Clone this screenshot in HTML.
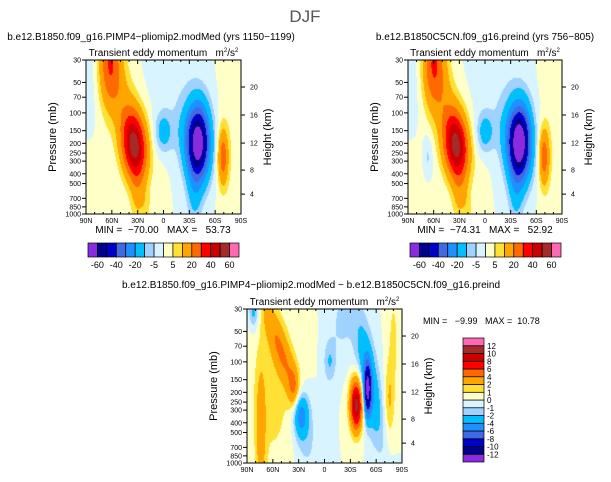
<!DOCTYPE html>
<html><head><meta charset="utf-8">
<style>
body{margin:0;background:#fff;width:611px;height:482px;overflow:hidden;position:relative;font-family:"Liberation Sans",sans-serif}
canvas{position:absolute}
svg{position:absolute;left:0;top:0}
text{white-space:pre}
</style></head>
<body>
<canvas id="c1"></canvas>
<canvas id="c2"></canvas>
<canvas id="c3"></canvas>
<svg id="s" width="611" height="482"></svg>
<script>
// ---- data ----
const latTicks = [90,60,30,0,-30,-60,-90];
const latTickLabels = ["90N","60N","30N","0","30S","60S","90S"];
const presTicks = [30,50,70,100,150,200,250,300,400,500,700,850,1000];
const heightTicks = [4,8,12,16,20];
const heightTickPres = [636,368,199,105,55.5];
const levelsFull = [-60,-50,-40,-30,-20,-10,-5,0,5,10,20,30,40,50,60];
const levelsFullLabels = ["-60","-40","-20","-5","5","20","40","60"];
const levelsDiff = [-12,-10,-8,-6,-4,-2,-1,0,1,2,4,6,8,10,12];
const colors = ["#8a2be2","#00008b","#0000cd","#4169e1","#1e90ff","#00bfff","#a0d2ff","#d8f4ff","#ffffc8","#ffe135","#ffa500","#ff6a00","#ff0000","#cc0000","#a52a2a","#ff69b4"];
// blobs: [lat, pressure, amplitude, sigmaLat, sigmaLnP, tilt]
const blobs1 = [[34,208,56,10,0.55,-3],[62,32,30,9,0.7,0],[48,70,8,10,0.6,0],[30,700,9,6,0.5,0],[-40,198,-72,9.5,0.6,0],[-36,700,-9,6,0.5,0],[0,155,-14,7,0.32,0],[-20,150,-5,8,0.5,0],[-69,273,25,4.3,0.45,0],[-80,100,3,10,3,0],[85,50,-3,8,1.0,0],[80,700,2.5,15,1.2,0],[-15,45,-3,20,0.8,0],[5,600,2,6,0.6,0],[20,900,5,4,0.3,0]];
const blobs2 = [[34,208,55,10,0.55,-3],[60,32,30,9,0.7,0],[48,70,8,10,0.6,0],[30,700,9,6,0.5,0],[-40,198,-76,9.5,0.6,0],[-36,700,-9,6,0.5,0],[0,155,-14,7,0.32,0],[-20,150,-5,8,0.5,0],[-69,273,25,4.3,0.45,0],[-80,100,3,10,3,0],[85,50,-3,8,1.0,0],[80,700,2.5,15,1.2,0],[-15,45,-3,20,0.8,0],[5,600,2,6,0.6,0],[67,270,-7,4,0.35,0],[20,900,5,4,0.3,0]];
const blobs3 = [[-37,267,11,5,0.4,0],[-50,189,-11,3,0.4,0],[-52,150,-4,8,1.0,-7.5],[27,330,-5.5,6,0.35,0],[50,80,3.5,8,0.8,-16],[36,180,2.5,4,0.3,0],[74,500,2.6,4,1.0,0],[60,200,1.3,20,1.5,0],[-6,100,-2,5,0.35,0],[-75,250,2,4,0.6,0],[82,30,-3,4,0.3,0],[20,600,-1.3,10,0.6,0],[-20,40,-1.2,10,0.6,0],[-80,60,1.2,5,1,0]];

const NS="http://www.w3.org/2000/svg";
const svg=document.getElementById('s');
function el(tag,attrs,parent){const e=document.createElementNS(NS,tag);for(const k in attrs)e.setAttribute(k,attrs[k]);(parent||svg).appendChild(e);return e;}
function txt(x,y,s,size,anchor,rot,name){const t=el('text',{x:x,y:y,'font-size':size,'text-anchor':anchor||'start',fill:'#000','font-family':'Liberation Sans, sans-serif'});if(rot)t.setAttribute('transform','rotate('+rot+' '+x+' '+y+')');t.textContent=s;


return t;}

function field(blobs,lat,p){let v=0;const lp=Math.log(p);for(const b of blobs){const dl=lp-Math.log(b[1]);const lc=b[0]+b[5]*dl;const a=(lat-lc)/b[3],c=dl/b[4];v+=b[2]*Math.exp(-0.5*(a*a+c*c));}return v;}
function idx(v,levels){let i=0;for(const l of levels)if(v>=l)i++;return i;}
function hex(c){return [parseInt(c.substr(1,2),16),parseInt(c.substr(3,2),16),parseInt(c.substr(5,2),16)];}

function panel(id,ox,oy,w,h,blobs,levels,name){
  const cv=document.getElementById(id);cv.width=w;cv.height=h;cv.style.left=ox+'px';cv.style.top=oy+'px';
  const ctx=cv.getContext('2d');const im=ctx.createImageData(w,h);
  const L=Math.log(1000/30);
  const xOf=lat=>ox+(90-lat)/180*w;
  const yOf=p=>oy+Math.log(p/30)/L*h;
  for(let j=0;j<h;j++){const p=30*Math.exp((j+0.5)/h*L);for(let i=0;i<w;i++){const lat=90-(i+0.5)/w*180;const c=hex(colors[idx(field(blobs,lat,p),levels)]);const k=(j*w+i)*4;im.data[k]=c[0];im.data[k+1]=c[1];im.data[k+2]=c[2];im.data[k+3]=255;}}
  ctx.putImageData(im,0,0);
  const g=el('g',{});
  
  
  el('rect',{x:ox,y:oy,width:w,height:h,fill:'none',stroke:'#000','stroke-width':1},g);
  latTicks.forEach((lt,i)=>{const x=xOf(lt);el('line',{x1:x,y1:oy+h,x2:x,y2:oy+h-4,stroke:'#000'},g);el('line',{x1:x,y1:oy,x2:x,y2:oy+4,stroke:'#000'},g);
    txt(x,oy+h+9,latTickLabels[i],7,'middle',0,'x-tick-label');});
  for(let lt=80;lt>-90;lt-=10){if(lt%30===0)continue;const x=xOf(lt);el('line',{x1:x,y1:oy+h,x2:x,y2:oy+h-2,stroke:'#000'},g);el('line',{x1:x,y1:oy,x2:x,y2:oy+2,stroke:'#000'},g);}
  presTicks.forEach(p=>{const y=yOf(p);el('line',{x1:ox,y1:y,x2:ox-4,y2:y,stroke:'#000'},g);txt(ox-5,y+2.5,String(p),7,'end',0,'y-tick-label');});
  heightTicks.forEach((hk,i)=>{const y=yOf(heightTickPres[i]);el('line',{x1:ox+w,y1:y,x2:ox+w+4,y2:y,stroke:'#000'},g);txt(ox+w+9,y+2.5,String(hk),7,'start',0,'height-tick-label');});
  txt(ox-30,oy+h/2,'Pressure (mb)',11,'middle',-90,'y-axis-title');
  txt(ox+w+30,oy+h/2,'Height (km)',11,'middle',-90,'height-axis-title');
  const t=txt(ox+w/2,oy-4,'',10,'middle',0,'panel-subtitle');
  t.innerHTML='Transient eddy momentum \u00a0 m<tspan font-size="6" dy="-4">2</tspan><tspan dy="4">/s</tspan><tspan font-size="6" dy="-4">2</tspan>';
}

function hbar(x,y,w,h,levels,labels,name){
  const n=colors.length,bw=w/n;
  colors.forEach((c,i)=>{const r=el('rect',{x:x+i*bw,y:y,width:bw,height:h,fill:c,stroke:'#000','stroke-width':0.7});
  
  });
  labels.forEach((s,k)=>{const i=2*k+1;txt(x+i*bw,y+h+11,s,9,'middle',0,'colorbar-label');});
}
function vbar(x,y,w,h,levels){
  const n=colors.length,bh=h/n;
  colors.forEach((c,i)=>{const r=el('rect',{x:x,y:y+(n-1-i)*bh,width:w,height:bh,fill:c,stroke:'#000','stroke-width':0.7});
  
  });
  levels.forEach((l,i)=>{txt(x+w+3,y+(n-1-i)*bh+3,String(l),8,'start',0,'colorbar-label');});
}

txt(305,22,'DJF',17,'middle',0,'figure-title').setAttribute('fill','#555');
txt(151,40,'b.e12.B1850.f09_g16.PIMP4\u2212pliomip2.modMed (yrs 1150\u22121199)',10,'middle',0,'left-panel-title');
txt(485,40,'b.e12.B1850C5CN.f09_g16.preind (yrs 756\u2212805)',10,'middle',0,'right-panel-title');
txt(311,288,'b.e12.B1850.f09_g16.PIMP4\u2212pliomip2.modMed \u2212 b.e12.B1850C5CN.f09_g16.preind',10,'middle',0,'bottom-panel-title');

panel('c1',86,60,155,154,blobs1,levelsFull,'left-panel');
panel('c2',408,60,154,154,blobs2,levelsFull,'right-panel');
panel('c3',247,309,155,154,blobs3,levelsDiff,'diff-panel');

txt(163,233,'MIN =  \u221270.00   MAX =   53.73',10,'middle',0,'left-minmax');
txt(485,233,'MIN =  \u221274.31   MAX =   52.92',10,'middle',0,'right-minmax');
txt(423,324,'MIN =   \u22129.99   MAX =  10.78',9,'start',0,'diff-minmax');

hbar(88,243,151,14,levelsFull,levelsFullLabels,'left-colorbar');
hbar(410,243,151,14,levelsFull,levelsFullLabels,'right-colorbar');
vbar(463,338,21,124,levelsDiff);
</script>
</body></html>
